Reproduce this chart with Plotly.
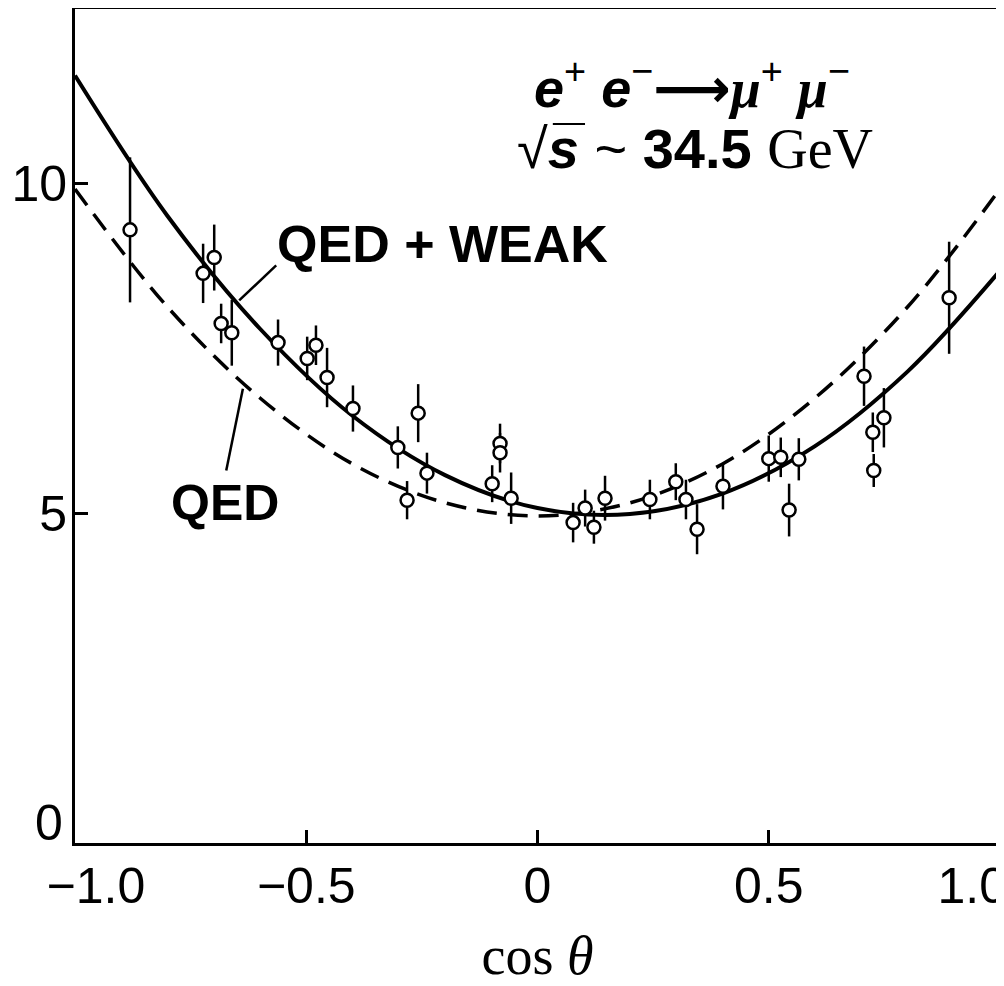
import plotly.graph_objects as go

# ---- data ----
cos_theta = [-0.881, -0.723, -0.699, -0.684, -0.661, -0.561, -0.498, -0.479, -0.455, -0.399,
             -0.302, -0.282, -0.258, -0.239, -0.098, -0.081, -0.081, -0.057, 0.077, 0.103,
             0.122, 0.146, 0.243, 0.299, 0.321, 0.345, 0.401, 0.500, 0.526, 0.544,
             0.565, 0.706, 0.725, 0.727, 0.749, 0.890]
dsigma = [9.30, 8.64, 8.88, 7.88, 7.74, 7.59, 7.35, 7.55, 7.06, 6.59,
          6.00, 5.20, 6.52, 5.61, 5.45, 6.06, 5.92, 5.23, 4.86, 5.08,
          4.79, 5.23, 5.21, 5.48, 5.21, 4.76, 5.41, 5.83, 5.85, 5.05,
          5.82, 7.08, 6.23, 5.65, 6.45, 8.27]
dsigma_err = [1.10, 0.45, 0.50, 0.30, 0.50, 0.35, 0.33, 0.30, 0.45, 0.35,
              0.32, 0.29, 0.44, 0.31, 0.28, 0.30, 0.30, 0.39, 0.30, 0.28,
              0.25, 0.34, 0.30, 0.28, 0.30, 0.38, 0.35, 0.35, 0.30, 0.40,
              0.32, 0.45, 0.30, 0.25, 0.45, 0.85]

curve_x = [-1.0, -0.8, -0.6, -0.4, -0.2, 0.0, 0.2, 0.4, 0.6, 0.8, 1.0]
qed_weak = [11.64, 9.51, 7.80, 6.48, 5.58, 5.08, 4.99, 5.30, 6.02, 7.15, 8.68]
qed = [9.92, 8.13, 6.75, 5.75, 5.16, 4.96, 5.16, 5.75, 6.75, 8.13, 9.92]

x_tickvals = [-1.0, -0.5, 0.0, 0.5, 1.0]
x_ticktext = ["\u00a0\u00a0\u00a0\u22121.0", "\u22120.5", "0", "0.5", "1.0\u00a0\u00a0\u00a0\u00a0"]
y_tickvals = [0, 5, 10]
y_ticktext = ["", "5", "10"]

fig = go.Figure()

fig.add_trace(go.Scatter(
    x=curve_x, y=qed, mode="lines", line=dict(color="black", width=3.5, dash="20px,11px", shape="spline"),
    hoverinfo="skip", showlegend=False))
fig.add_trace(go.Scatter(
    x=curve_x, y=qed_weak, mode="lines", line=dict(color="black", width=4, shape="spline"),
    hoverinfo="skip", showlegend=False))
fig.add_trace(go.Scatter(
    x=cos_theta, y=dsigma, mode="markers",
    error_y=dict(type="data", array=dsigma_err, symmetric=True, color="black", thickness=2.5, width=0),
    marker=dict(symbol="circle", size=13, color="white", line=dict(color="black", width=2.5)),
    showlegend=False))

# leader lines
fig.add_shape(type="line", x0=-0.565, y0=8.76, x1=-0.645, y1=8.23, xref="x", yref="y",
              line=dict(color="black", width=2.5))
fig.add_shape(type="line", x0=-0.637, y0=6.89, x1=-0.673, y1=5.65, xref="x", yref="y",
              line=dict(color="black", width=2.5))

fig.add_annotation(x=-0.567, y=9.09, xref="x", yref="y", xanchor="left", yanchor="middle",
                   text="<b>QED + WEAK</b>", showarrow=False,
                   font=dict(family="Liberation Sans", size=52, color="black"))
fig.add_annotation(x=-0.676, y=5.15, xref="x", yref="y", xanchor="center", yanchor="middle",
                   text="<b>QED</b>", showarrow=False,
                   font=dict(family="Liberation Sans", size=50, color="black"))

# zero label of the y axis, raised above the corner as in the reference
fig.add_annotation(x=-1.0, y=0, xref="x", yref="y", xanchor="right", yanchor="middle",
                   xshift=-10, yshift=20, text="0", showarrow=False,
                   font=dict(family="Liberation Sans", size=50, color="black"))

serif = "font-family:Liberation Serif"
fig.add_annotation(x=0.335, y=11.49, xref="x", yref="y", xanchor="center", yanchor="middle",
                   text=("<b><i>e</i></b><sup>+</sup> <b><i>e</i></b><sup>\u2212</sup>"
                         "<span style='font-family:DejaVu Sans'><b>\u27f6</b></span>"
                         f"<span style='{serif}'><b><i>\u03bc</i></b></span><sup>+</sup> "
                         f"<span style='{serif}'><b><i>\u03bc</i></b></span><sup>\u2212</sup>"),
                   showarrow=False, font=dict(family="Liberation Sans", size=54, color="black"))
fig.add_annotation(x=0.34, y=10.53, xref="x", yref="y", xanchor="center", yanchor="middle",
                   text=("\u221a<b><i>s\u0305</i></b> ~ <b>34.5</b> "
                         f"<span style='{serif}'>GeV</span>"),
                   showarrow=False, font=dict(family="Liberation Sans", size=56, color="black"))

fig.update_xaxes(range=[-1.0, 1.0], tickvals=x_tickvals, ticktext=x_ticktext,
                 showline=True, linecolor="black", linewidth=3, mirror=True,
                 ticks="inside", ticklen=13, tickwidth=2.5, tickcolor="black",
                 showgrid=False, zeroline=False, automargin=False, ticklabeloverflow="allow",
                 ticklabelstandoff=-3,
                 tickfont=dict(family="Liberation Sans", size=50, color="black"),
                 title=dict(text="cos <i>\u03b8</i>", standoff=24,
                            font=dict(family="Liberation Serif", size=54, color="black")))
fig.update_yaxes(range=[0, 12.65], tickvals=y_tickvals, ticktext=y_ticktext,
                 showline=True, linecolor="black", linewidth=3, mirror=True,
                 ticks="inside", ticklen=13, tickwidth=2.5, tickcolor="black",
                 showgrid=False, zeroline=False, automargin=False, ticklabeloverflow="allow",
                 ticklabelstandoff=-5,
                 tickfont=dict(family="Liberation Sans", size=50, color="black"))

# the page body adds an 8px offset, so the figure is sized to fit inside the window
fig.update_layout(width=996, height=978, margin=dict(l=67, r=4, t=1, b=143),
                  paper_bgcolor="white", plot_bgcolor="white")

fig.write_html("out.html")
